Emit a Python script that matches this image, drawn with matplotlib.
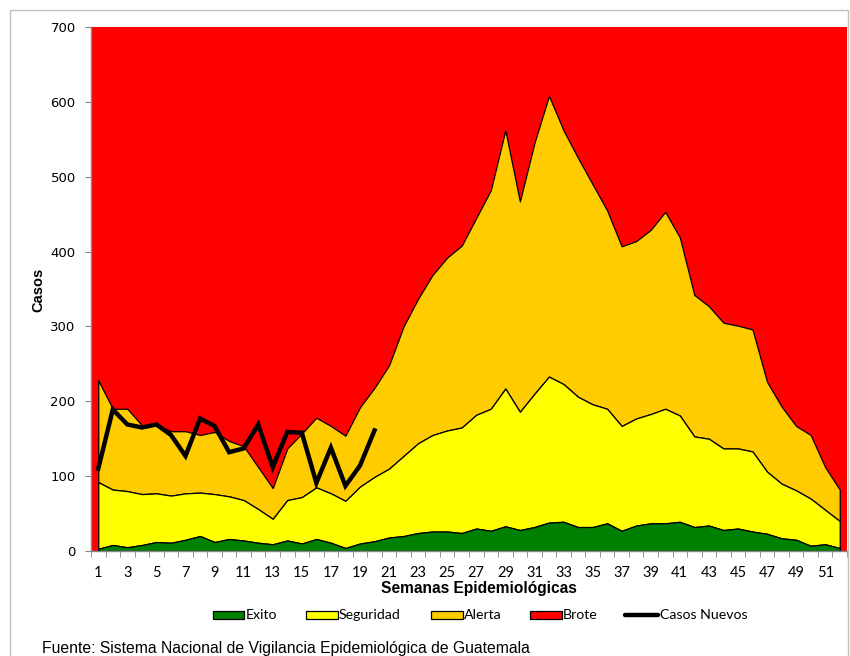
import matplotlib
matplotlib.use("Agg")
import matplotlib.pyplot as plt
from matplotlib.patches import Rectangle
from matplotlib.lines import Line2D
import numpy as np

# Epidemiological weeks
weeks = list(range(1, 53))

# Endemic channel bands (stacked)
exito = [3, 8, 5, 8, 12, 11, 15, 20, 12, 16, 14, 11, 9, 14, 10, 16, 11, 4, 10, 13,
         18, 20, 24, 26, 26, 24, 30, 27, 33, 28, 32, 38, 39, 32, 32, 37, 27, 34, 37, 37,
         39, 32, 34, 28, 30, 26, 23, 17, 15, 7, 9, 4]
seguridad = [89, 74, 75, 68, 65, 63, 62, 58, 64, 57, 54, 45, 34, 54, 62, 69, 66, 63, 76, 86,
             92, 107, 120, 129, 135, 141, 152, 163, 184, 158, 178, 195, 184, 174, 164, 153, 140, 143, 146, 153,
             142, 121, 116, 109, 107, 107, 83, 73, 66, 63, 46, 36]
alerta = [136, 108, 110, 92, 92, 86, 83, 77, 83, 74, 72, 56, 41, 69, 85, 93, 90, 87, 106, 119,
          138, 173, 193, 214, 231, 243, 263, 292, 345, 281, 335, 375, 339, 319, 294, 265, 240, 237, 246, 263,
          238, 189, 177, 168, 164, 163, 120, 103, 86, 85, 57, 42]

# New cases reported so far
casos_weeks = list(range(1, 21))
casos_nuevos = [110, 189, 169, 165, 169, 155, 127, 177, 167, 132, 137, 169, 112, 159, 158, 91,
                138, 87, 114, 161]

y_ticks = [0, 100, 200, 300, 400, 500, 600, 700]
x_labels = list(range(1, 53, 2))

C_EXITO = "#008000"
C_SEG = "#FFFF00"
C_ALERTA = "#FFCC00"
C_BROTE = "#FF0000"

W, H = 850, 656
fig = plt.figure(figsize=(W / 100, H / 100), dpi=100)
fig.patch.set_facecolor("white")


def fx(px):
    return px / W


def fy(py):
    return 1 - py / H


ax = fig.add_axes([fx(91), fy(551), 756 / W, 524 / H])
ax.set_facecolor(C_BROTE)
ax.set_xlim(0.5, 52.5)
ax.set_ylim(0, 700)

x = np.array(weeks)
top_exito = np.array(exito)
top_seg = top_exito + np.array(seguridad)
top_alerta = top_seg + np.array(alerta)

ymax = ax.get_ylim()[1]
ax.fill_between(x, top_alerta, ymax, color=C_BROTE, lw=0)
ax.fill_between(x, top_seg, top_alerta, facecolor=C_ALERTA, edgecolor="black", lw=0.9)
ax.fill_between(x, top_exito, top_seg, facecolor=C_SEG, edgecolor="black", lw=0.9)
ax.fill_between(x, 0, top_exito, facecolor=C_EXITO, edgecolor="black", lw=0.9)
ax.plot(casos_weeks, casos_nuevos, color="black", lw=3.2, solid_joinstyle="miter", zorder=5)

for s in ["top", "right"]:
    ax.spines[s].set_visible(False)
for s in ["left", "bottom"]:
    ax.spines[s].set_color("#868686")
    ax.spines[s].set_linewidth(1)
    ax.spines[s].set_zorder(6)

ax.set_yticks(y_ticks)
ax.set_yticklabels([str(v) for v in y_ticks], fontsize=9.5, family="DejaVu Sans")
ax.tick_params(axis="y", length=4, color="#868686", pad=7)

ax.set_xticks(x_labels)
ax.set_xticklabels([str(v) for v in x_labels], fontsize=10.5, family="Lato")
ax.set_xticks(np.arange(0.5, 53, 1), minor=True)
ax.tick_params(axis="x", which="major", length=0, pad=11)
ax.tick_params(axis="x", which="minor", length=4, color="#868686")

fig.text(fx(38), fy(290), "Casos", fontsize=10.5, fontweight="bold", family="Liberation Sans",
         rotation=90, ha="center", va="center")
fig.text(fx(479), fy(588), "Semanas Epidemiológicas", fontsize=11.2, fontweight="bold",
         family="Liberation Sans", ha="center", va="center")

# Legend entries laid out along one row under the axis title
legend_items = [
    ("patch", C_EXITO, "Exito", 212.7),
    ("patch", C_SEG, "Seguridad", 306.0),
    ("patch", C_ALERTA, "Alerta", 431.0),
    ("patch", C_BROTE, "Brote", 530.0),
    ("line", "black", "Casos Nuevos", 625.0),
]
key_w, key_h, key_y = 31.5, 8.5, 615.0
for kind, color, label, x0 in legend_items:
    if kind == "patch":
        fig.patches.append(Rectangle((fx(x0), fy(key_y + key_h / 2)), key_w / W, key_h / H,
                                     transform=fig.transFigure, facecolor=color,
                                     edgecolor="black", lw=0.9))
    else:
        fig.lines.append(Line2D([fx(x0), fx(x0 + 33)], [fy(key_y), fy(key_y)],
                                transform=fig.transFigure, color=color, lw=3.2,
                                solid_capstyle="round"))
    tx = x0 + (key_w if kind == "patch" else 33) + 1.5
    fig.text(fx(tx), fy(key_y), label, fontsize=10.2, family="Lato", ha="left", va="center")

fig.text(fx(42), fy(653.5), "Fuente: Sistema Nacional de Vigilancia Epidemiológica de Guatemala",
         fontsize=11.3, family="Liberation Sans", ha="left", va="baseline")

fig.patches.append(Rectangle((fx(10), -0.05), 838 / W, 1 - 10 / H + 0.05, transform=fig.transFigure,
                             fill=False, edgecolor="#BFBFBF", lw=1))

fig.savefig("out.png", dpi=100)
